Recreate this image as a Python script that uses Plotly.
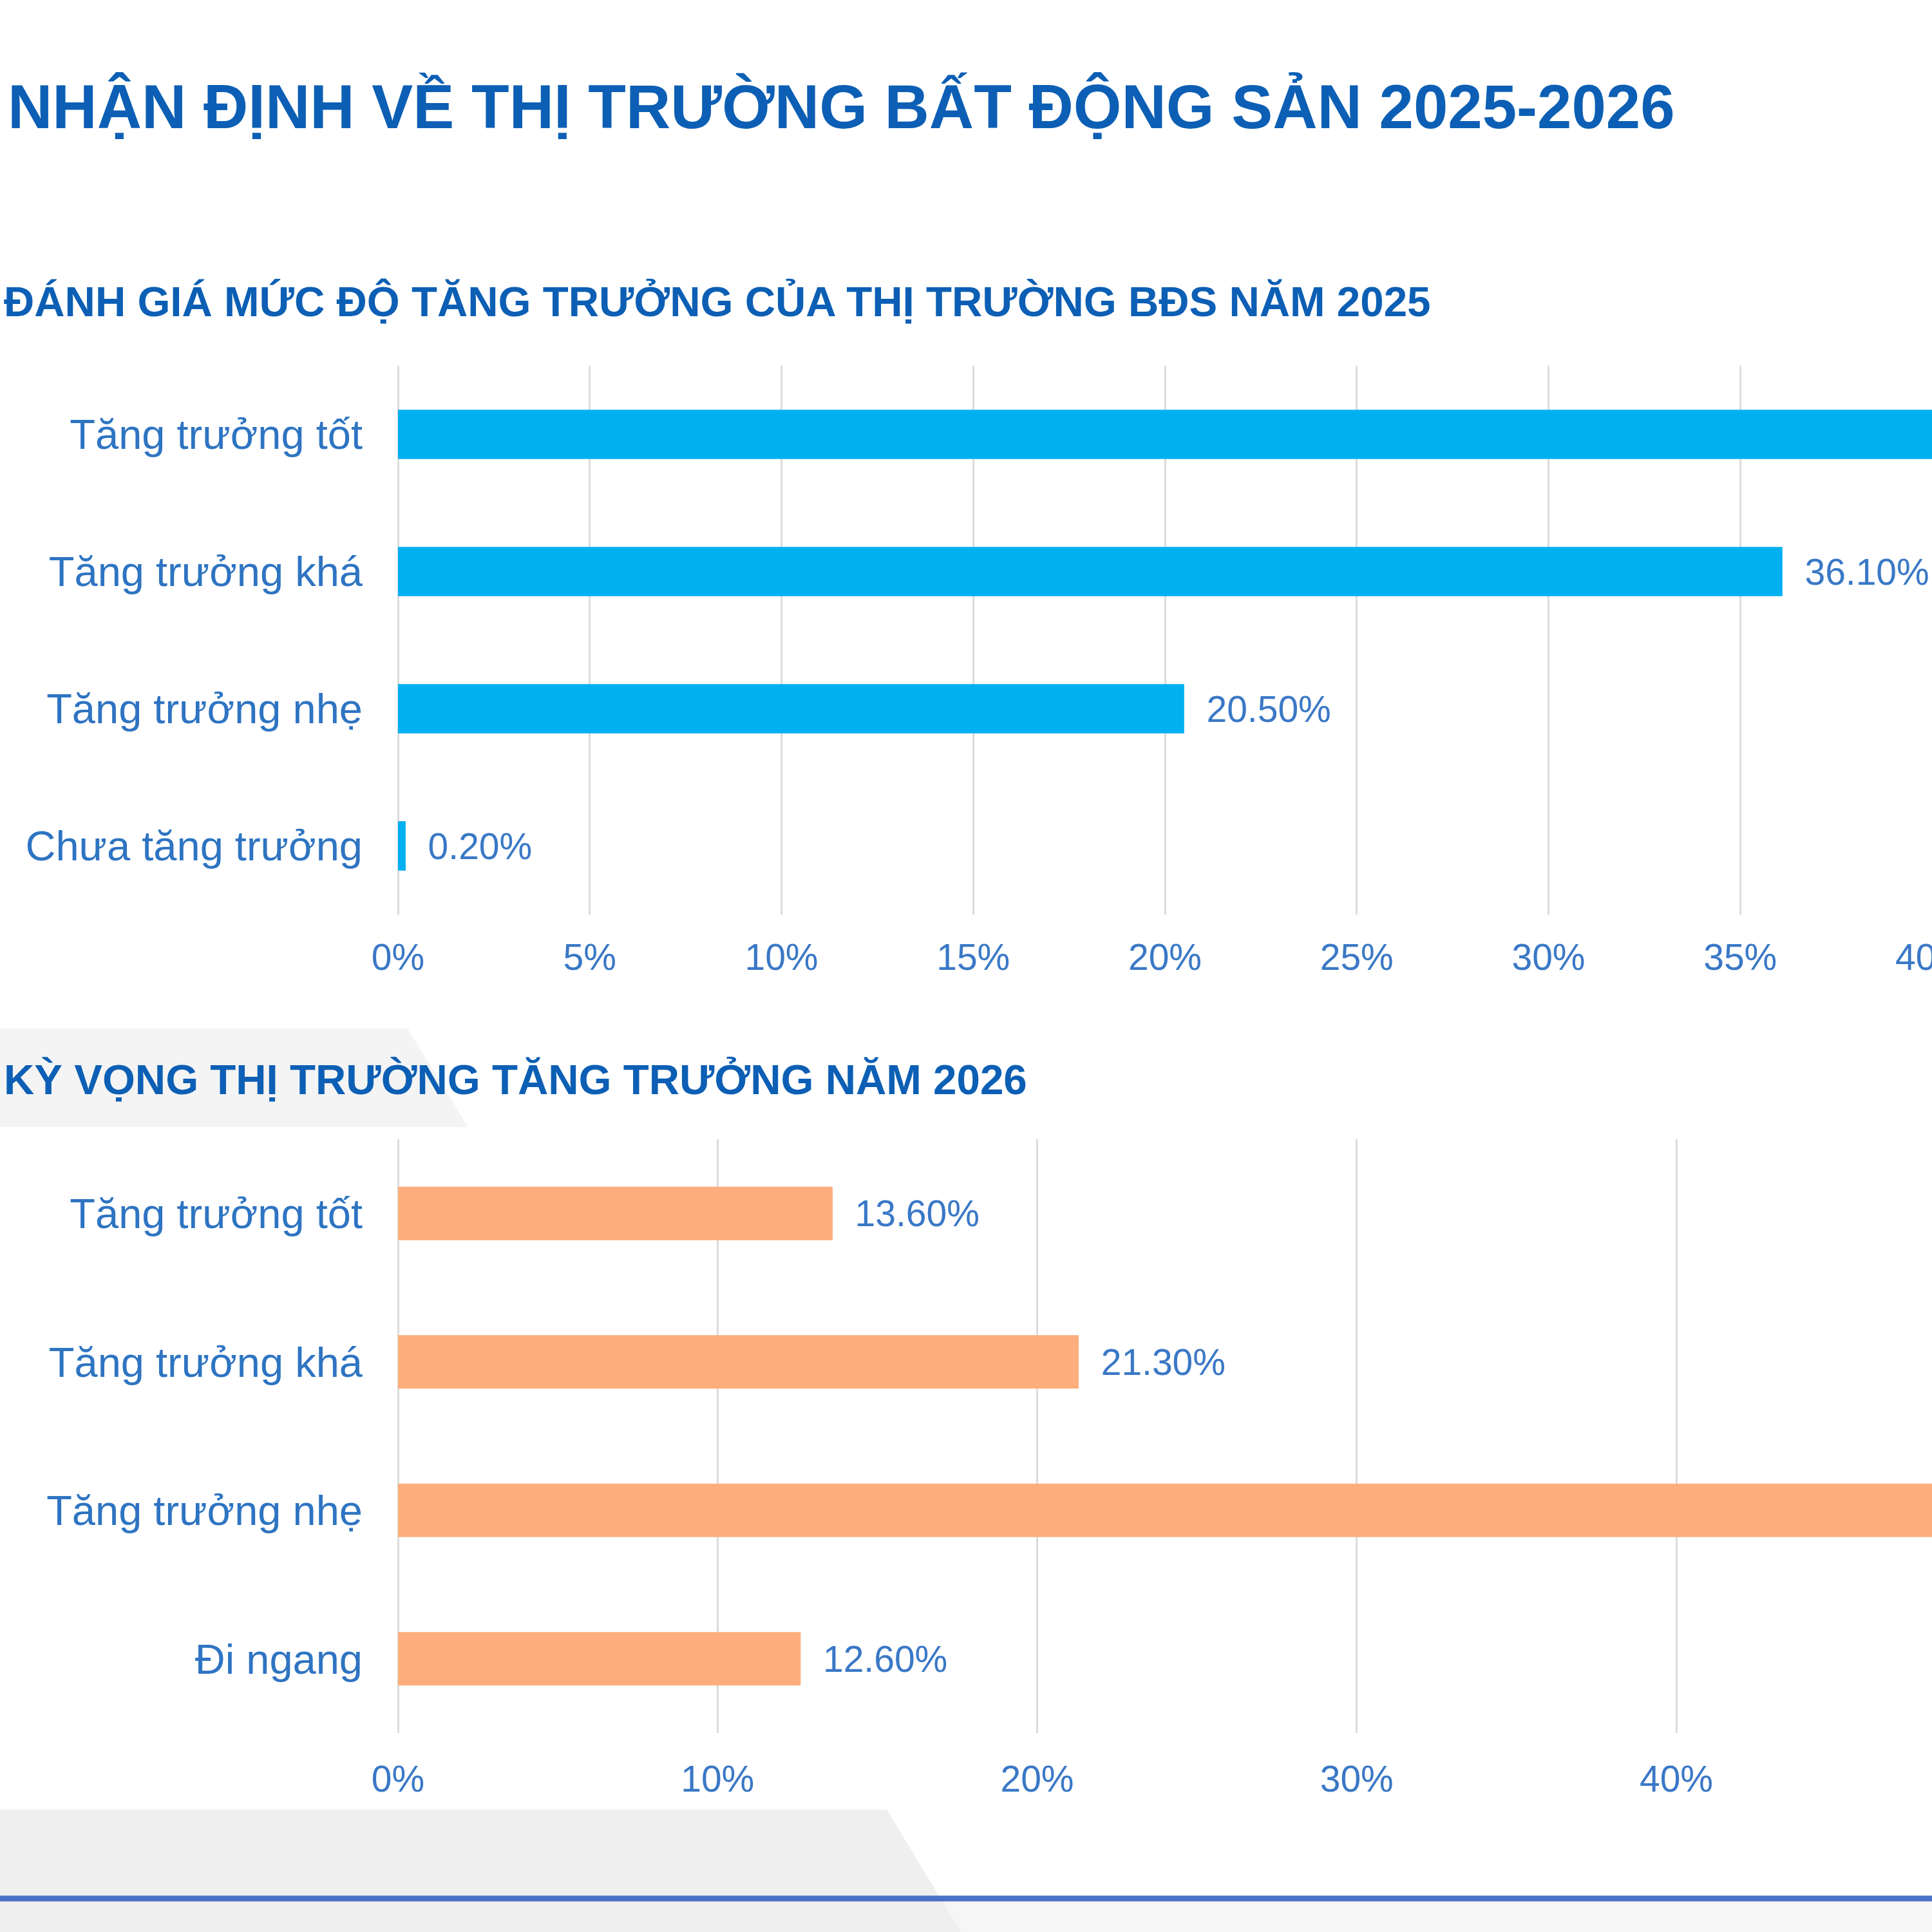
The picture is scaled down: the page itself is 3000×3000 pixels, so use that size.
import plotly.graph_objects as go

# ---------------- data ----------------
title_text = "NHẬN ĐỊNH VỀ THỊ TRƯỜNG BẤT ĐỘNG SẢN 2025-2026"
subtitle_2025 = "ĐÁNH GIÁ MỨC ĐỘ TĂNG TRƯỞNG CỦA THỊ TRƯỜNG BĐS NĂM 2025"
subtitle_2026 = "KỲ VỌNG THỊ TRƯỜNG TĂNG TRƯỞNG NĂM 2026"

cats_2025 = ["Tăng trưởng tốt", "Tăng trưởng khá", "Tăng trưởng nhẹ", "Chưa tăng trưởng"]
vals_2025 = [43.2, 36.1, 20.5, 0.2]

cats_2026 = ["Tăng trưởng tốt", "Tăng trưởng khá", "Tăng trưởng nhẹ", "Đi ngang"]
vals_2026 = [13.6, 21.3, 52.5, 12.6]

ticks_2025 = [0, 5, 10, 15, 20, 25, 30, 35, 40]
ticklabels_2025 = ["0%", "5%", "10%", "15%", "20%", "25%", "30%", "35%", "40%"]
ticks_2026 = [0, 10, 20, 30, 40]
ticklabels_2026 = ["0%", "10%", "20%", "30%", "40%"]

# ---------------- style ----------------
W = H = 3000
FONT = "Liberation Sans, Arial, sans-serif"
TITLE_BLUE = "#0c5fb4"
LABEL_BLUE = "#2e74c2"
TICK_BLUE = "#3a78c6"
BLUE_BAR = "#00b0f0"
ORANGE_BAR = "#fdae7c"
GRID = "#dcdcdc"


def px(x):
    return x / W


def py(y):
    return 1 - y / H


fig = go.Figure()

fig.add_trace(go.Bar(
    x=vals_2025, y=cats_2025, orientation="h",
    marker=dict(color=BLUE_BAR, line=dict(width=0)),
    texttemplate="\u00a0\u00a0%{x:.2f}%", textposition="outside",
    textfont=dict(family=FONT, size=57, color=TICK_BLUE),
    cliponaxis=True, constraintext="none",
    xaxis="x", yaxis="y", showlegend=False, hoverinfo="skip",
))

fig.add_trace(go.Bar(
    x=vals_2026, y=cats_2026, orientation="h",
    marker=dict(color=ORANGE_BAR, line=dict(width=0)),
    texttemplate="\u00a0\u00a0%{x:.2f}%", textposition="outside",
    textfont=dict(family=FONT, size=57, color=TICK_BLUE),
    cliponaxis=True, constraintext="none",
    xaxis="x2", yaxis="y2", showlegend=False, hoverinfo="skip",
))

common_x = dict(
    showgrid=True, gridcolor=GRID, gridwidth=3,
    zeroline=True, zerolinecolor=GRID, zerolinewidth=3,
    showline=False, ticks="", automargin=False,
    ticklabeloverflow="allow",
    tickfont=dict(family=FONT, size=57, color=TICK_BLUE),
    fixedrange=True,
)
common_y = dict(
    showgrid=False, zeroline=False, showline=False, ticks="",
    autorange="reversed", automargin=False,
    tickfont=dict(family=FONT, size=65, color=LABEL_BLUE),
    ticklabelstandoff=54, fixedrange=True,
)

fig.update_layout(
    width=W, height=H,
    margin=dict(l=0, r=0, t=0, b=0, autoexpand=False),
    paper_bgcolor="white", plot_bgcolor="rgba(0,0,0,0)",
    bargap=0.64,
    xaxis=dict(common_x, domain=[px(618), 1], range=[0, 40],
               tickvals=ticks_2025, ticktext=ticklabels_2025,
               ticklabelstandoff=28, anchor="y"),
    yaxis=dict(common_y, domain=[py(1420), py(568)], anchor="x"),
    xaxis2=dict(common_x, domain=[px(618), 1], range=[0, 48],
                tickvals=ticks_2026, ticktext=ticklabels_2026,
                ticklabelstandoff=33, anchor="y2"),
    yaxis2=dict(common_y, domain=[py(2691), py(1769)], anchor="x2"),
)

# background decorations
shapes = [
    dict(type="path", xref="paper", yref="paper", layer="below",
         path=f"M 0 {py(1597)} L {px(633)} {py(1597)} L {px(727)} {py(1750)} L 0 {py(1750)} Z",
         fillcolor="#f4f4f4", line=dict(width=0)),
    dict(type="rect", xref="paper", yref="paper", layer="below",
         x0=0, x1=1, y0=0, y1=py(2952),
         fillcolor="#f6f6f6", line=dict(width=0)),
    dict(type="path", xref="paper", yref="paper", layer="below",
         path=f"M 0 {py(2810)} L {px(1377)} {py(2810)} L {px(1492)} 0 L 0 0 Z",
         fillcolor="#efefef", line=dict(width=0)),
    dict(type="line", xref="paper", yref="paper", layer="above",
         x0=0, x1=1, y0=py(2948), y1=py(2948),
         line=dict(color="#4a72c6", width=9)),
]
fig.update_layout(shapes=shapes)

annotations = [
    dict(text=f"<b>{title_text}</b>", x=px(10), y=py(165), xref="paper", yref="paper",
         xanchor="left", yanchor="middle", showarrow=False,
         font=dict(family=FONT, size=96, color=TITLE_BLUE)),
    dict(text=f"<b>{subtitle_2025}</b>", x=px(4), y=py(468), xref="paper", yref="paper",
         xanchor="left", yanchor="middle", showarrow=False,
         font=dict(family=FONT, size=65.5, color=TITLE_BLUE)),
    dict(text=f"<b>{subtitle_2026}</b>", x=px(4), y=py(1676), xref="paper", yref="paper",
         xanchor="left", yanchor="middle", showarrow=False,
         font=dict(family=FONT, size=65.5, color=TITLE_BLUE)),
]
fig.update_layout(annotations=annotations)

fig.write_html("out.html")
